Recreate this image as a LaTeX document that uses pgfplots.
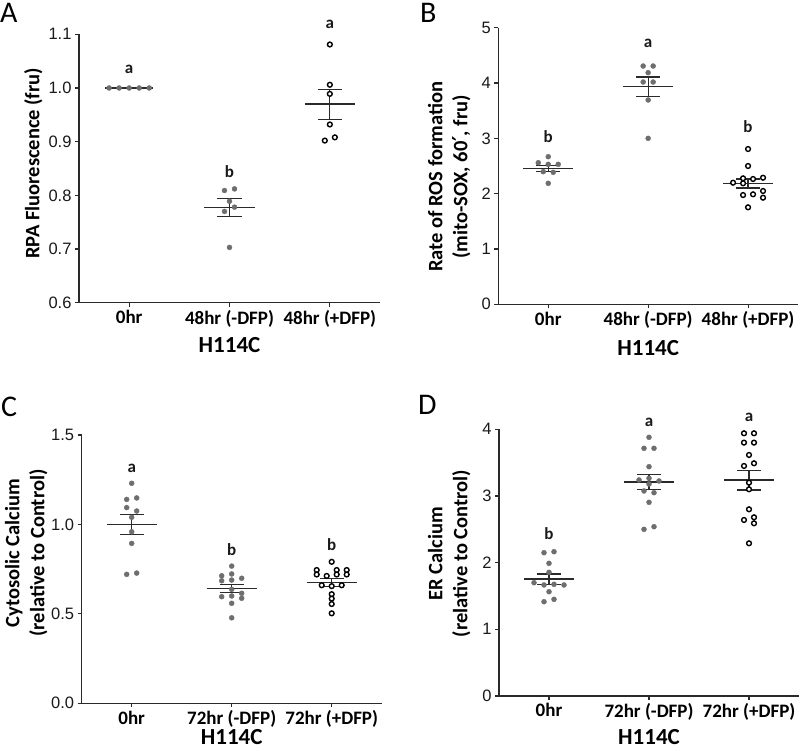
\documentclass[border=0pt]{standalone}
\usepackage{pgfplots}
\pgfplotsset{compat=1.18}
\usepackage{fontspec}
\setmainfont{Carlito}
\newfontfamily\tickfont{Liberation Sans}
\newfontfamily\dejavu{DejaVu Sans}
\definecolor{dotgray}{HTML}{6E6E6E}
\definecolor{linegray}{HTML}{2A2A2A}

\pgfplotsset{
  panel/.style={
    scale only axis, clip=false,
    axis x line=bottom, axis y line=left,
    axis line style={-, line width=1.1pt, draw=linegray},
    xmin=-0.5, xmax=2.5, xtick={0,1,2},
    tick align=outside, major tick length=4pt,
    tick style={line width=1.1pt, draw=linegray},
    xticklabel style={font=\bfseries\fontsize{19}{22}\selectfont, text=black},
    yticklabel style={font=\tickfont\fontsize{16.5}{19}\selectfont, text=black!90},
    /pgf/number format/assume math mode=true,
    xlabel style={font=\bfseries\fontsize{23}{27}\selectfont, anchor=center, inner sep=1pt},
    ylabel style={font=\bfseries\fontsize{20.5}{25}\selectfont, anchor=center, align=center},
  },
  gdot/.style={only marks, mark=*, mark size=2.5pt, mark options={draw=dotgray, fill=dotgray}},
  odot/.style={only marks, mark=*, mark size=2.4pt, mark options={draw=black, fill=white, line width=1.4pt}},
  mline/.style={no marks, line width=1.3pt, draw=linegray},
}
\tikzset{lett/.style={font=\bfseries\fontsize{17}{20}\selectfont, text=black!90},
         plet/.style={font=\fontsize{30}{34}\selectfont, inner sep=0pt, anchor=north west}}

\begin{document}
\begin{tikzpicture}
\useasboundingbox (0,0) rectangle (800pt,751pt);

% ---------------- Panel A ----------------
\begin{axis}[panel, at={(79pt,448.3pt)}, anchor=south west, width=301pt, height=268.4pt,
  ymin=0.6, ymax=1.1, ytick={0.6,0.7,0.8,0.9,1.0,1.1},
  yticklabel style={/pgf/number format/.cd, fixed, fixed zerofill, precision=1},
  xticklabels={0hr,48hr (-DFP),48hr (+DFP)},
  xlabel={H114C}, xlabel style={at={(axis description cs:0.5,-0.158)}},
  ylabel={RPA Fluorescence (fru)}, ylabel style={at={(axis description cs:-0.152,0.519)}}]
\addplot[gdot] coordinates {(-0.2,1.0) (-0.1,1.0) (0,1.0) (0.1,1.0) (0.2,1.0)};
\addplot[mline] coordinates {(-0.24,1.0) (0.24,1.0)};
\addplot[gdot] coordinates {(0.95,0.809) (1.05,0.812) (1,0.789) (0.95,0.770) (1.05,0.778) (1,0.703)};
\addplot[mline] coordinates {(0.75,0.777) (1.25,0.777)};
\addplot[mline] coordinates {(1,0.760) (1,0.794)};
\addplot[mline] coordinates {(0.88,0.760) (1.12,0.760)};
\addplot[mline] coordinates {(0.88,0.794) (1.12,0.794)};
\addplot[odot] coordinates {(2,1.081) (2,1.006) (2,0.989) (2,0.932) (1.95,0.902) (2.05,0.908)};
\addplot[mline] coordinates {(1.75,0.970) (2.25,0.970)};
\addplot[mline] coordinates {(2,0.941) (2,0.997)};
\addplot[mline] coordinates {(1.88,0.941) (2.12,0.941)};
\addplot[mline] coordinates {(1.88,0.997) (2.12,0.997)};
\node[lett] at (axis cs:0,1.035) {a};
\node[lett] at (axis cs:1,0.844) {b};
\node[lett] at (axis cs:2,1.119) {a};
\end{axis}

% ---------------- Panel B ----------------
\begin{axis}[panel, at={(498.3pt,446.7pt)}, anchor=south west, width=299.7pt, height=276.6pt,
  ymin=0, ymax=5, ytick={0,1,2,3,4,5},
  xticklabels={0hr,48hr (-DFP),48hr (+DFP)},
  xlabel={H114C}, xlabel style={at={(axis description cs:0.5,-0.159)}},
  ylabel={Rate of ROS formation\\(mito-SOX, 60{\dejavu\bfseries ′}, fru)}, ylabel style={at={(axis description cs:-0.164,0.461)}}]
\addplot[gdot] coordinates {(0,2.668) (-0.1,2.559) (0,2.530) (0.1,2.530) (-0.05,2.397) (0.05,2.386) (0,2.187)};
\addplot[mline] coordinates {(-0.25,2.46) (0.25,2.46)};
\addplot[mline] coordinates {(0,2.40) (0,2.515)};
\addplot[mline] coordinates {(-0.12,2.40) (0.12,2.40)};
\addplot[mline] coordinates {(-0.12,2.515) (0.12,2.515)};
\addplot[gdot] coordinates {(0.95,4.307) (1.05,4.307) (1,4.187) (0.95,4.018) (1.05,4.018) (1,3.693) (1,3.0)};
\addplot[mline] coordinates {(0.75,3.933) (1.25,3.933)};
\addplot[mline] coordinates {(1,3.758) (1,4.108)};
\addplot[mline] coordinates {(0.88,3.758) (1.12,3.758)};
\addplot[mline] coordinates {(0.88,4.108) (1.12,4.108)};
\addplot[odot] coordinates {(2,2.807) (2,2.500) (1.85,2.198) (1.95,2.277) (1.95,2.187) (2.05,2.265) (2.15,2.288) (1.95,1.975) (2.05,1.988) (2.15,2.048) (2.15,1.927) (2,1.753)};
\addplot[mline] coordinates {(1.75,2.184) (2.25,2.184)};
\addplot[mline] coordinates {(2,2.103) (2,2.265)};
\addplot[mline] coordinates {(1.88,2.103) (2.12,2.103)};
\addplot[mline] coordinates {(1.88,2.265) (2.12,2.265)};
\node[lett] at (axis cs:0,3.03) {b};
\node[lett] at (axis cs:1,4.72) {a};
\node[lett] at (axis cs:2,3.22) {b};
\end{axis}

% ---------------- Panel C ----------------
\begin{axis}[panel, at={(81.7pt,47.7pt)}, anchor=south west, width=300pt, height=268.3pt,
  ymin=0, ymax=1.5, ytick={0,0.5,1.0,1.5},
  yticklabel style={/pgf/number format/.cd, fixed, fixed zerofill, precision=1},
  xticklabels={0hr,72hr (-DFP),72hr (+DFP)},
  xlabel={H114C}, xlabel style={at={(axis description cs:0.5,-0.127)}},
  ylabel={Cytosolic Calcium\\(relative to Control)}, ylabel style={at={(axis description cs:-0.185,0.56)}}]
\addplot[gdot] coordinates {(0,1.230) (-0.05,1.140) (0.05,1.148) (-0.05,1.094) (0.05,1.075) (0,1.040) (0,0.959) (0,0.894) (-0.05,0.721) (0.05,0.728)};
\addplot[mline] coordinates {(-0.25,1.0) (0.25,1.0)};
\addplot[mline] coordinates {(0,0.945) (0,1.056)};
\addplot[mline] coordinates {(-0.12,0.945) (0.12,0.945)};
\addplot[mline] coordinates {(-0.12,1.056) (0.12,1.056)};
\addplot[gdot] coordinates {(1,0.767) (0.9,0.713) (1,0.723) (1.1,0.699) (0.9,0.685) (1,0.689) (1,0.637) (0.9,0.596) (1,0.600) (1.1,0.615) (1.1,0.587) (1,0.559) (1,0.478)};
\addplot[mline] coordinates {(0.75,0.642) (1.25,0.642)};
\addplot[mline] coordinates {(1,0.619) (1,0.665)};
\addplot[mline] coordinates {(0.88,0.619) (1.12,0.619)};
\addplot[mline] coordinates {(0.88,0.665) (1.12,0.665)};
\addplot[odot] coordinates {(2,0.791) (1.85,0.745) (1.85,0.72) (1.95,0.712) (2.05,0.745) (2.05,0.72) (2.15,0.745) (2.15,0.72) (1.9,0.66) (2,0.655) (2.1,0.66) (2,0.61) (2,0.585) (2,0.555) (2,0.503)};
\addplot[mline] coordinates {(1.75,0.675) (2.25,0.675)};
\addplot[mline] coordinates {(2,0.654) (2,0.696)};
\addplot[mline] coordinates {(1.88,0.654) (2.12,0.654)};
\addplot[mline] coordinates {(1.88,0.696) (2.12,0.696)};
\node[lett] at (axis cs:0,1.313) {a};
\node[lett] at (axis cs:1,0.857) {b};
\node[lett] at (axis cs:2,0.885) {b};
\end{axis}

% ---------------- Panel D ----------------
\begin{axis}[panel, at={(499pt,55pt)}, anchor=south west, width=300pt, height=266.7pt,
  ymin=0, ymax=4, ytick={0,1,2,3,4},
  xticklabels={0hr,72hr (-DFP),72hr (+DFP)},
  xlabel={H114C}, xlabel style={at={(axis description cs:0.5,-0.153)}},
  ylabel={ER Calcium\\(relative to Control)}, ylabel style={at={(axis description cs:-0.166,0.534)}}]
\addplot[gdot] coordinates {(-0.05,2.149) (0.05,2.164) (0,1.990) (0,1.855) (-0.15,1.699) (-0.05,1.665) (0.05,1.675) (0.15,1.665) (0,1.564) (-0.05,1.414) (0.05,1.450)};
\addplot[mline] coordinates {(-0.25,1.754) (0.25,1.754)};
\addplot[mline] coordinates {(0,1.677) (0,1.831)};
\addplot[mline] coordinates {(-0.12,1.677) (0.12,1.677)};
\addplot[mline] coordinates {(-0.12,1.831) (0.12,1.831)};
\addplot[gdot] coordinates {(1,3.880) (0.95,3.715) (1.05,3.715) (1,3.439) (0.9,3.240) (1,3.265) (1.1,3.225) (1,3.180) (0.95,3.075) (1.05,3.049) (1,2.905) (0.95,2.500) (1.05,2.539)};
\addplot[mline] coordinates {(0.75,3.210) (1.25,3.210)};
\addplot[mline] coordinates {(1,3.094) (1,3.326)};
\addplot[mline] coordinates {(0.88,3.094) (1.12,3.094)};
\addplot[mline] coordinates {(0.88,3.326) (1.12,3.326)};
\addplot[odot] coordinates {(1.95,3.94) (2.05,3.94) (1.95,3.80) (2.05,3.80) (2,3.615) (1.95,3.45) (2.05,3.49) (2,3.20) (2,3.10) (2,2.80) (1.95,2.64) (2.05,2.68) (2.05,2.59) (2,2.29)};
\addplot[mline] coordinates {(1.75,3.238) (2.25,3.238)};
\addplot[mline] coordinates {(2,3.089) (2,3.387)};
\addplot[mline] coordinates {(1.88,3.089) (2.12,3.089)};
\addplot[mline] coordinates {(1.88,3.387) (2.12,3.387)};
\node[lett] at (axis cs:0,2.44) {b};
\node[lett] at (axis cs:1,4.105) {a};
\node[lett] at (axis cs:2,4.18) {a};
\end{axis}

% panel letters
\node[plet] at (0pt,747.7pt) {A};
\node[plet] at (420pt,747.7pt) {B};
\node[plet] at (1pt,354.3pt) {C};
\node[plet] at (418pt,356pt) {D};
\end{tikzpicture}
\end{document}
